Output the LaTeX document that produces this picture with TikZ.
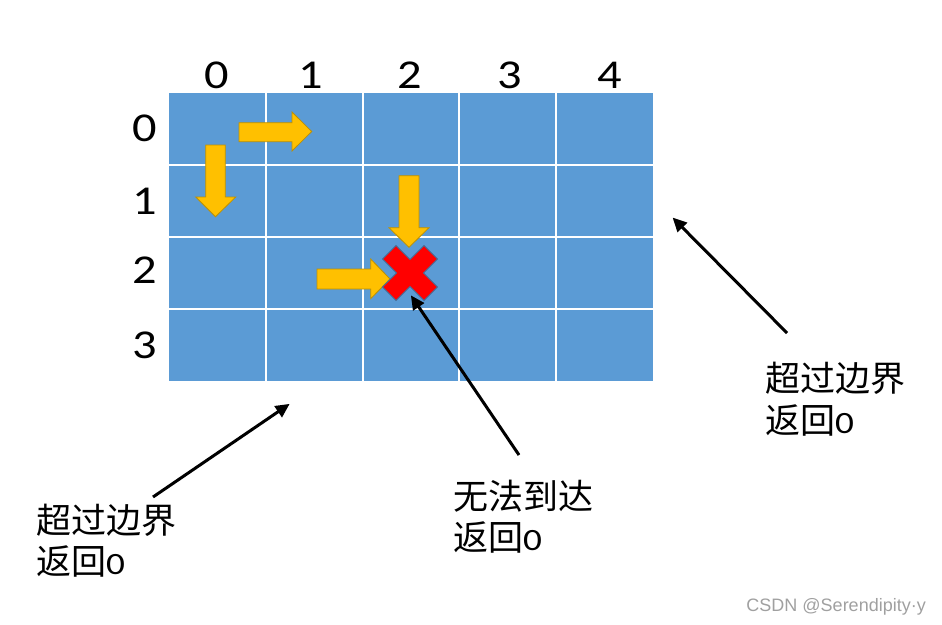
\documentclass[tikz,border=0pt]{standalone}
\usepackage{fontspec}
\usepackage{graphicx}
\setmainfont{Carlito}[Numbers=Lining]
\newfontfamily\cjk{Noto Sans CJK SC}
\newfontfamily\numfont{Carlito}[Numbers=Lining]
\newfontfamily\wmfont{Liberation Sans}
\newcommand\widedigit[1]{\scalebox{1.18}[1]{#1}}
\newcommand\notezero{{\fontsize{31}{42}\selectfont\numfont\scalebox{1.2}[1]{0}}}
\usetikzlibrary{arrows.meta}
\definecolor{gridblue}{HTML}{5B9BD5}
\definecolor{arrowyellow}{HTML}{FFC000}
\definecolor{arrowedge}{HTML}{BF9000}
\definecolor{xedge}{HTML}{41719C}
\definecolor{wmgray}{HTML}{A0A0A0}
\begin{document}
\begin{tikzpicture}[x=1pt,y=-1pt,
  idx/.style={font=\fontsize{41}{48}\selectfont\numfont, inner sep=0pt},
  note/.style={font=\fontsize{35}{42}\selectfont\cjk, anchor=base west, inner sep=0pt},
  yarrow/.style={fill=arrowyellow, draw=arrowedge, line width=0.8pt, line join=miter},
  pointer/.style={-{Triangle[length=14pt,width=13pt]}, line width=3pt, black, shorten >=-2pt},
  gridline/.style={white, line width=2pt},
]
\useasboundingbox (0,0) rectangle (942,624);

% grid
\fill[gridblue] (169,93) rectangle (653,381);
\foreach \x in {265.8,362.6,459.4,556.2} \draw[gridline] (\x,93) -- (\x,381);
\foreach \y in {165,237,309} \draw[gridline] (169,\y) -- (653,\y);

% column indices
\node[idx, anchor=base] (c0) at (217,88) {\widedigit{0}};
\node[idx, anchor=base] (c1) at (311,88) {\widedigit{1}};
\node[idx, anchor=base] (c2) at (410,88) {\widedigit{2}};
\node[idx, anchor=base] (c3) at (510,88) {\widedigit{3}};
\node[idx, anchor=base] (c4) at (610,88) {\widedigit{4}};
% row indices
\node[idx, anchor=base] (r0) at (145,141) {\widedigit{0}};
\node[idx, anchor=base] (r1) at (145,214) {\widedigit{1}};
\node[idx, anchor=base] (r2) at (145,283) {\widedigit{2}};
\node[idx, anchor=base] (r3) at (145,358) {\widedigit{3}};

% yellow arrows
\draw[yarrow] (239,122.7) -- (292,122.7) -- (292,112) -- (311.7,131.5) -- (292,151) -- (292,141.7) -- (239,141.7) -- cycle;
\draw[yarrow] (205.7,145) -- (225.3,145) -- (225.3,197) -- (235.7,197) -- (215.5,216.7) -- (195.7,197) -- (205.7,197) -- cycle;
\draw[yarrow] (399,175.7) -- (419,175.7) -- (419,227.7) -- (429,227.7) -- (409,247.3) -- (389,227.7) -- (399,227.7) -- cycle;
\draw[yarrow] (317,269) -- (370.7,269) -- (370.7,259) -- (390,279) -- (370.7,298.7) -- (370.7,289) -- (317,289) -- cycle;

% red cross
\begin{scope}[shift={(410,273)}]
\draw[fill=red, draw=xedge, line width=0.8pt, line join=miter]
  (-27.5,-14) -- (-14,-27.5) -- (0,-13.5) -- (14,-27.5) -- (27.5,-14) -- (13.5,0)
  -- (27.5,14) -- (14,27.5) -- (0,13.5) -- (-14,27.5) -- (-27.5,14) -- (-13.5,0) -- cycle;
\end{scope}

% notes
\node[note] (rt1) at (765,391) {超过边界};
\node[note] (rt2) at (765,433) {返回\notezero};
\node[note] (lt1) at (36,533) {超过边界};
\node[note] (lt2) at (36,574) {返回\notezero};
\node[note] (mt1) at (453,509) {无法到达};
\node[note] (mt2) at (453,550) {返回\notezero};

% pointer arrows
\coordinate (rs) at (787,333);
\coordinate (re) at (674,219);
\coordinate (ls) at (153,497);
\coordinate (le) at (288,405);
\coordinate (ms) at (519,455);
\coordinate (me) at (412,297);
\draw[pointer] (rs) -- (re);
\draw[pointer] (ls) -- (le);
\draw[pointer] (ms) -- (me);

% watermark
\node[font=\fontsize{18}{20}\selectfont\wmfont, text=wmgray, anchor=base east, inner sep=0pt] (wm) at (926,611) {CSDN @Serendipity·y};
\end{tikzpicture}
\end{document}
